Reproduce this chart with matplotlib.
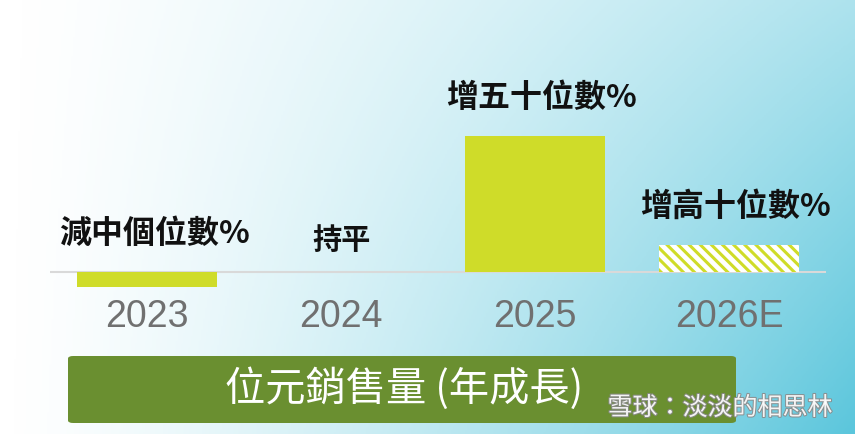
import matplotlib as mpl
import matplotlib.pyplot as plt
import numpy as np
from matplotlib.patches import FancyBboxPatch
from matplotlib.colors import LinearSegmentedColormap
import matplotlib.patheffects as pe

plt.rcParams['font.family'] = ['Noto Sans CJK TC', 'DejaVu Sans']
mpl.rcParams['hatch.linewidth'] = 2.2

# data
years = ['2023', '2024', '2025', '2026E']
growth = [-5.5, 0, 50, 10]   # rough relative size
labels = ['減中個位數%', '持平', '增五十位數%', '增高十位數%']
estimate = [False, False, False, True]
title = '位元銷售量 (年成長)'
watermark = '雪球：淡淡的相思林'

bar_col = '#cfdc29'
W, H = 855, 434

fig = plt.figure(figsize=(W/100, H/100), dpi=100)

# background gradient, white on the left to cyan on the lower right
bg = fig.add_axes([0, 0, 1, 1])
xx, yy = np.meshgrid(np.linspace(0, 1, 400), np.linspace(0, 1, 200))
t = xx**1.35 * (0.5 + 0.5*yy)
cmap = LinearSegmentedColormap.from_list('bg', ['#ffffff', '#5bc6dc'], N=256)
bg.imshow(t, cmap=cmap, aspect='auto', extent=[0, 1, 0, 1], origin='upper', vmin=0, vmax=1)
bg.set_xlim(0, 1)
bg.set_ylim(0, 1)
bg.axis('off')

# main chart
ax = fig.add_axes([50/W, (H-300)/H, 776/W, 260/H])
ax.patch.set_alpha(0)
x = np.arange(len(years))
for i in range(len(years)):
    if estimate[i]:
        ax.bar(x[i], growth[i], width=0.72, color='white', edgecolor=bar_col,
               hatch='\\\\\\', linewidth=0, zorder=2)
    else:
        ax.bar(x[i], growth[i], width=0.72, color=bar_col, linewidth=0, zorder=2)

ax.axhline(0, color='#d9d9d9', lw=1.5, zorder=1)
ax.set_xlim(-0.5, 3.5)
ax.set_ylim(-10.3, 85.3)
ax.axis('off')

for i in range(len(years)):
    top = max(growth[i], 0)
    off = 23 if growth[i] == 0 else 27.5
    ax.annotate(labels[i], (x[i], top), xytext=(5 if i != 1 else 0, off),
                textcoords='offset points', ha='center', va='center',
                fontsize=23 if i != 1 else 21, fontweight='bold', color='#111111')
    ax.annotate(years[i], (x[i], 0), xytext=(0, -32.5), textcoords='offset points',
                ha='center', va='center', fontsize=27, color='#707070',
                family='Liberation Sans')

# title banner
box = FancyBboxPatch((68/W, 11/H), 668/W, 67/H, boxstyle='round,pad=0,rounding_size=0.006',
                     transform=fig.transFigure, facecolor='#6a8f30', edgecolor='none')
fig.patches.append(box)
fig.text(404/W, (H-389)/H, title, ha='center', va='center', fontsize=29, color='white')

# watermark
fig.text(720/W, (H-408)/H, watermark, ha='center', va='center', fontsize=18,
         color='white', alpha=0.9,
         path_effects=[pe.withStroke(linewidth=1.5, foreground='#8a8a8a')])

plt.savefig('out.png', dpi=100)
